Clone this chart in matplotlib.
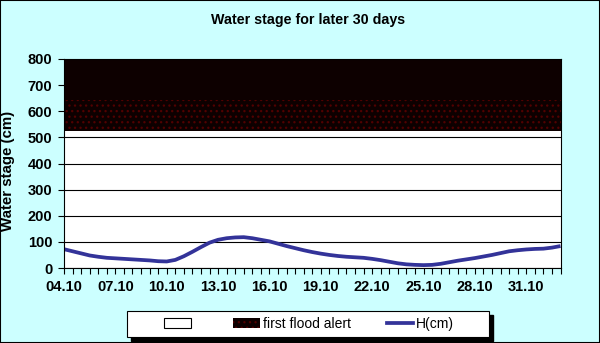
import matplotlib.pyplot as plt
import matplotlib.patches as mpatches
from matplotlib.lines import Line2D
import numpy as np

plt.rcParams['font.family'] = ['Liberation Sans', 'DejaVu Sans']
plt.rcParams['hatch.linewidth'] = 0.9

# water stage H(cm), every 12 hours from 04.10 to 02.11
h_cm = [72, 64, 56, 48, 43, 39, 37, 35, 33, 31,
        29, 26, 25, 31, 45, 62, 80, 97, 108, 114,
        117, 118, 114, 108, 102, 93, 84, 76, 68, 61,
        55, 50, 46, 43, 41, 39, 35, 30, 24, 18,
        14, 12, 11, 12, 16, 22, 28, 33, 38, 44,
        50, 57, 64, 68, 71, 73, 74, 78, 84]
date_labels = ['04.10', '07.10', '10.10', '13.10', '16.10',
               '19.10', '22.10', '25.10', '28.10', '31.10']

normal_top = 525      # top of the white (normal) band
alert_mid = 643       # top of the dotted part of the alert band
alert_top = 800

x = np.arange(len(h_cm)) * 0.5  # days since 04.10

fig = plt.figure(figsize=(6, 3.43), dpi=100, facecolor='#CCFFFF')
ax = fig.add_axes([64 / 600, 1 - 268 / 343, 496.5 / 600, 209 / 343])
ax.set_facecolor('white')
ax.set_axisbelow(True)

ax.fill_between(x, 0, normal_top, color='white', lw=0, zorder=0.2)
ax.fill_between(x, normal_top, alert_mid, facecolor='#0D0000',
                edgecolor='#520000', hatch='...', lw=0, zorder=2)
ax.fill_between(x, alert_mid, alert_top, color='#0D0000', lw=0, zorder=2)
ax.plot(x, h_cm, color='#333399', lw=2.7, zorder=3, solid_capstyle='butt')

ax.set_xlim(x[0], x[-1])
ax.set_ylim(0, 800)
ax.set_yticks(np.arange(0, 801, 100))
ax.set_xticks(np.arange(len(date_labels)) * 3)
ax.set_xticklabels(date_labels)
ax.set_xticks(x, minor=True)
ax.grid(axis='y', color='black', lw=0.8)
ax.tick_params(axis='both', which='both', direction='out', length=4,
               width=0.8, color='black', labelsize=10.5, pad=4.5)
for lab in ax.get_xticklabels() + ax.get_yticklabels():
    lab.set_fontweight('bold')
for s in ax.spines.values():
    s.set_color('black')
    s.set_linewidth(0.8)
    s.set_zorder(4)

ax.set_ylabel('Water stage (cm)', fontsize=10.8, fontweight='bold')
ax.yaxis.set_label_coords(-(64 - 15) / 496.5, (268 - 171) / 209)

fig.text(308 / 600, 1 - 20 / 343, 'Water stage for later 30 days',
         ha='center', va='center', fontsize=10.3, fontweight='bold')

# legend box with shadow
lx, ly, lw_, lh = 127 / 600, 1 - 337 / 343, 362 / 600, 26 / 343
fig.patches.append(mpatches.Rectangle((lx + 4 / 600, ly - 4 / 343), lw_, lh,
                                      transform=fig.transFigure,
                                      facecolor='black', edgecolor='black'))
fig.patches.append(mpatches.Rectangle((lx, ly), lw_, lh,
                                      transform=fig.transFigure,
                                      facecolor='white', edgecolor='black', lw=0.8))

handles = [mpatches.Patch(facecolor='white', edgecolor='black', lw=0.8),
           mpatches.Patch(facecolor='#0D0000', edgecolor='#520000',
                          hatch='...', lw=0),
           Line2D([], [], color='#333399', lw=2.7)]
labels = [' ', 'first flood alert', 'H(cm)']
fig.legend(handles, labels, ncol=3, frameon=False, loc='center',
           bbox_to_anchor=(309 / 600, 1 - 324 / 343),
           fontsize=10, handlelength=1.9, handleheight=0.7,
           handletextpad=0.2, columnspacing=2.6)

fig.patches.append(mpatches.Rectangle((0, 0), 1, 1, transform=fig.transFigure,
                                      fill=False, edgecolor='black', lw=1.5))

fig.savefig('out.png', dpi=100, facecolor=fig.get_facecolor())
